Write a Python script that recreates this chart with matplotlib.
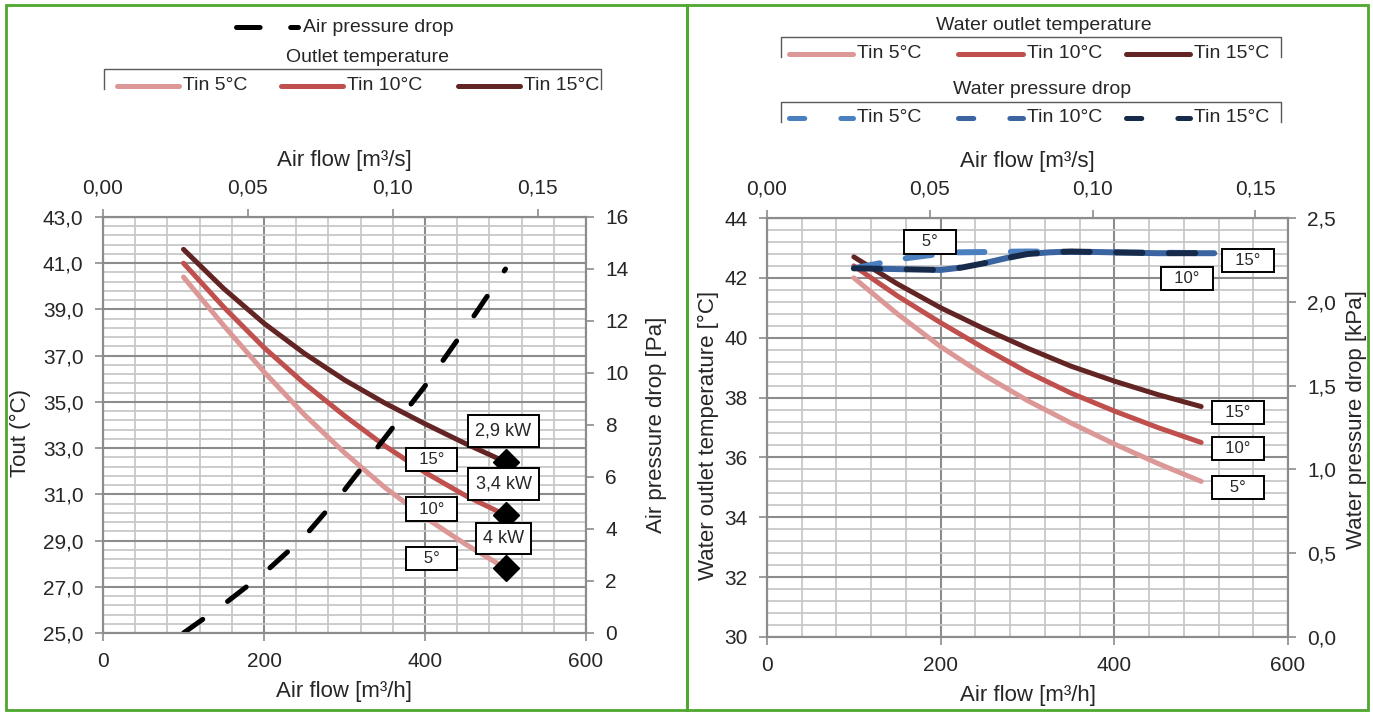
import numpy as np
import matplotlib
matplotlib.use("Agg")
import matplotlib.pyplot as plt
from matplotlib.lines import Line2D
from matplotlib.patches import Rectangle
from matplotlib.ticker import FixedLocator, MultipleLocator, FuncFormatter

plt.rcParams['font.family'] = ['Liberation Sans', 'DejaVu Sans']
plt.rcParams['lines.scale_dashes'] = False

# air flow [m3/h]
flow = [100, 150, 200, 250, 300, 350, 400, 450, 500]

# left chart: air outlet temperature [°C] for water inlet 5/10/15 °C
tout_5 = [40.4, 38.3, 36.3, 34.45, 32.8, 31.3, 30.0, 28.85, 27.8]
tout_10 = [41.0, 39.1, 37.35, 35.8, 34.4, 33.1, 31.95, 30.95, 30.1]
tout_15 = [41.6, 39.9, 38.4, 37.1, 35.95, 34.95, 34.05, 33.2, 32.4]
# air pressure drop [Pa]
air_dp = [0.0, 1.1, 2.3, 3.7, 5.5, 7.5, 9.5, 11.7, 14.0]
power_labels = ['4 kW', '3,4 kW', '2,9 kW']
tin_labels = ['5°', '10°', '15°']
tin_names = ['Tin 5°C', 'Tin 10°C', 'Tin 15°C']

# right chart: water outlet temperature [°C]
wout_5 = [42.0, 40.8, 39.7, 38.75, 37.9, 37.15, 36.45, 35.8, 35.2]
wout_10 = [42.4, 41.4, 40.5, 39.65, 38.85, 38.15, 37.55, 37.0, 36.5]
wout_15 = [42.7, 41.8, 41.0, 40.3, 39.65, 39.05, 38.55, 38.1, 37.7]

# water pressure drop [kPa]
wdp_flow_5 = [100, 130, 160, 190, 220, 300, 400, 515]
wdp_5 = [2.20, 2.23, 2.26, 2.28, 2.295, 2.30, 2.295, 2.29]
wdp_flow = [100, 150, 200, 225, 250, 275, 300, 325, 350, 400, 450, 515]
wdp_10 = [2.20, 2.195, 2.19, 2.205, 2.23, 2.26, 2.285, 2.295, 2.30, 2.295, 2.29, 2.29]
wdp_15 = [2.20, 2.195, 2.19, 2.205, 2.23, 2.26, 2.285, 2.295, 2.30, 2.295, 2.29, 2.29]

reds = ['#dc9896', '#c0504d', '#632523']
blues = ['#4a7fc0', '#3a65a0', '#172a4a']
grid_major = '#8c8c8c'
grid_minor = '#c8c8c8'
txt = '#262626'

W, H = 1373, 713
fig = plt.figure(figsize=(W / 100, H / 100), dpi=100)


def fx(px):
    return px / W


def fy(py):
    return 1 - py / H


def comma(fmt):
    return FuncFormatter(lambda v, p: (fmt % v).replace('.', ','))


def base_axes(x0, x1, ytop, ybot, ylim, yfmt):
    ax = fig.add_axes([fx(x0), fy(ybot), (x1 - x0) / W, (ybot - ytop) / H])
    ax.set_xlim(0, 600)
    ax.set_ylim(*ylim)
    ax.xaxis.set_major_locator(MultipleLocator(200))
    ax.xaxis.set_minor_locator(MultipleLocator(40))
    ax.yaxis.set_major_locator(FixedLocator(np.arange(ylim[0], ylim[1] + 0.01, 2)))
    ax.yaxis.set_minor_locator(FixedLocator(np.arange(ylim[0], ylim[1] + 0.01, 0.4)))
    ax.yaxis.set_major_formatter(comma(yfmt))
    ax.grid(which='minor', color=grid_minor, lw=1.3)
    ax.grid(which='major', color=grid_major, lw=1.5)
    ax.set_axisbelow(True)
    for s in ax.spines.values():
        s.set_color(grid_major)
        s.set_linewidth(1.5)
    ax.tick_params(which='major', direction='out', length=6, width=1.2,
                   color=grid_major, labelcolor=txt, labelsize=15, pad=8)
    ax.tick_params(which='minor', length=0)
    return ax


def right_axis(ax, ylim, step, fmt, label, xpos, ypos):
    tw = ax.twinx()
    tw.set_ylim(*ylim)
    tw.yaxis.set_major_locator(MultipleLocator(step))
    tw.yaxis.set_major_formatter(comma(fmt))
    tw.tick_params(direction='out', length=6, width=1.2, color=grid_major,
                   labelcolor=txt, labelsize=15, pad=8)
    for s in tw.spines.values():
        s.set_color(grid_major)
        s.set_linewidth(1.5)
    tw.set_ylabel(label, fontsize=16, color=txt)
    tw.yaxis.set_label_coords(xpos, ypos)
    return tw


def top_axis(ax, to_top, from_top):
    sec = ax.secondary_xaxis('top', functions=(to_top, from_top))
    sec.set_xticks([0, 0.05, 0.10, 0.15])
    sec.xaxis.set_major_formatter(comma('%.2f'))
    sec.tick_params(direction='out', length=6, width=1.2, color=grid_major,
                    labelcolor=txt, labelsize=15, pad=8)
    sec.spines['top'].set_color(grid_major)
    sec.set_xlabel('Air flow [m³/s]', fontsize=16, color=txt, labelpad=9)
    return sec


def box(ax, text, xy, off, size=12, pad=0.25):
    ax.annotate(text, xy=xy, xytext=off, textcoords='offset pixels',
                ha='center', va='center', fontsize=size, color=txt, zorder=10,
                bbox=dict(boxstyle=f'square,pad={pad}', fc='white', ec='black', lw=1.4))


def deg(label):
    # degree boxes share one width, so shorter labels get more blank room
    room = '   ' if len(label) < 3 else '  '
    return room + label + room


# ---------- left chart: air side ----------
ax1 = base_axes(103, 586, 217, 633, (25, 43), '%.1f')
ax1.set_xlabel('Air flow [m³/h]', fontsize=16, color=txt, labelpad=7)
ax1.set_ylabel('Tout (°C)', fontsize=16, color=txt)
ax1.yaxis.set_label_coords(-0.150, 0.48)
top_axis(ax1, lambda q: q / 3600, lambda s: s * 3600)

for t, c in zip([tout_5, tout_10, tout_15], reds):
    ax1.plot(flow, t, color=c, lw=3.6, solid_capstyle='round')
ends = [tout_5[-1], tout_10[-1], tout_15[-1]]
ax1.plot([flow[-1]] * 3, ends, 'D', color='black', ms=13, zorder=5)

ax2 = right_axis(ax1, (0, 16), 2, '%.0f', 'Air pressure drop [Pa]', 1.124, 0.5)
ax2.plot(flow, air_dp, color='black', lw=3.6, dashes=(17, 22),
         dash_capstyle='round')

# labels sit next to the curve ends, in temperature coordinates
tin_off = [(-74, 10), (-74, 6), (-74, 2.6)]
kw_off = [(-2, 30), (-2, 31), (-2, 31)]
for i, e in enumerate(ends):
    box(ax1, deg(tin_labels[i]), (flow[-1], e), tin_off[i])
    box(ax1, power_labels[i], (flow[-1], e), kw_off[i], size=13, pad=0.4)

# ---------- right chart: water side ----------
ax3 = base_axes(767, 1288, 218, 637, (30, 44), '%.0f')
ax3.set_xlabel('Air flow [m³/h]', fontsize=16, color=txt, labelpad=7)
ax3.set_ylabel('Water outlet temperature [°C]', fontsize=16, color=txt)
ax3.yaxis.set_label_coords(-0.092, 0.48)
top_axis(ax3, lambda q: q * 0.16 / 600, lambda s: s * 600 / 0.16)

for t, c in zip([wout_5, wout_10, wout_15], reds):
    ax3.plot(flow, t, color=c, lw=3.6, solid_capstyle='round')

ax4 = right_axis(ax3, (0, 2.5), 0.5, '%.1f', 'Water pressure drop [kPa]', 1.111, 0.52)
ax4.plot(wdp_flow_5, wdp_5, color=blues[0], lw=4.3, dashes=(19, 19),
         dash_capstyle='round')
ax4.plot(wdp_flow, wdp_10, color=blues[1], lw=4.3, linestyle=(19, (19, 19)),
         dash_capstyle='round')
ax4.plot(wdp_flow, wdp_15, color=blues[2], lw=4.3, dashes=(19, 19),
         dash_capstyle='round')

wends = [wout_5[-1], wout_10[-1], wout_15[-1]]
for i, e in enumerate(wends):
    box(ax3, deg(tin_labels[i]), (flow[-1], e), (37, -6))
box(ax4, deg(tin_labels[2]), (wdp_flow[-1], wdp_15[-1]), (34, -7))
box(ax4, deg(tin_labels[1]), (wdp_flow[-1], wdp_10[-1]), (-27, -25))
box(ax4, deg(tin_labels[0]), (wdp_flow_5[3], wdp_5[3]), (-2, 13))


# ---------- legends drawn in figure pixels ----------
def fig_line(xs, ys, **kw):
    fig.add_artist(Line2D([fx(x) for x in xs], [fy(y) for y in ys],
                          transform=fig.transFigure, **kw))


def bracket(x0, x1, ytop, ybot):
    fig_line([x0, x0, x1, x1], [ybot, ytop, ytop, ybot], color='#595959', lw=1.0)


def entry(x0, x1, y, label, color, dashed=False):
    kw = dict(color=color, lw=3.6, solid_capstyle='round', dash_capstyle='round')
    if dashed:
        kw['dashes'] = (11, 26)
    fig_line([x0 + 2, x1 - 2], [y, y], **kw)
    fig.text(fx(x1 + 2), fy(y), label, ha='left', va='center', fontsize=14, color=txt)


# left legend
fig_line([236, 298], [27, 27], color='black', lw=3.6, dashes=(17, 22),
         dash_capstyle='round')
fig.text(fx(303), fy(27), 'Air pressure drop', ha='left', va='center',
         fontsize=14, color=txt)
fig.text(fx(367), fy(57), 'Outlet temperature', ha='center', va='center',
         fontsize=14, color=txt)
bracket(104, 601, 69, 89)
for (x0, x1), name, c in zip([(115, 181), (279, 345), (456, 522)], tin_names, reds):
    entry(x0, x1, 86, name, c)

# right legends
fig.text(fx(1044), fy(25), 'Water outlet temperature', ha='center', va='center',
         fontsize=14, color=txt)
bracket(781, 1281, 37, 57)
fig.text(fx(1042), fy(90), 'Water pressure drop', ha='center', va='center',
         fontsize=14, color=txt)
bracket(781, 1281, 102, 122)
slots = [(787, 855), (956, 1025), (1124, 1192)]
for (x0, x1), name, c in zip(slots, tin_names, reds):
    entry(x0, x1, 54, name, c)
for (x0, x1), name, c in zip(slots, tin_names, blues):
    entry(x0, x1, 118, name, c, dashed=True)

# green panel frames
for x0, x1 in [(6, 687), (687, 1368)]:
    fig.add_artist(Rectangle((fx(x0), fy(710)), (x1 - x0) / W, 705 / H,
                             transform=fig.transFigure, fill=False,
                             ec='#4ea72e', lw=2.0))

fig.savefig('out.png', dpi=100)
